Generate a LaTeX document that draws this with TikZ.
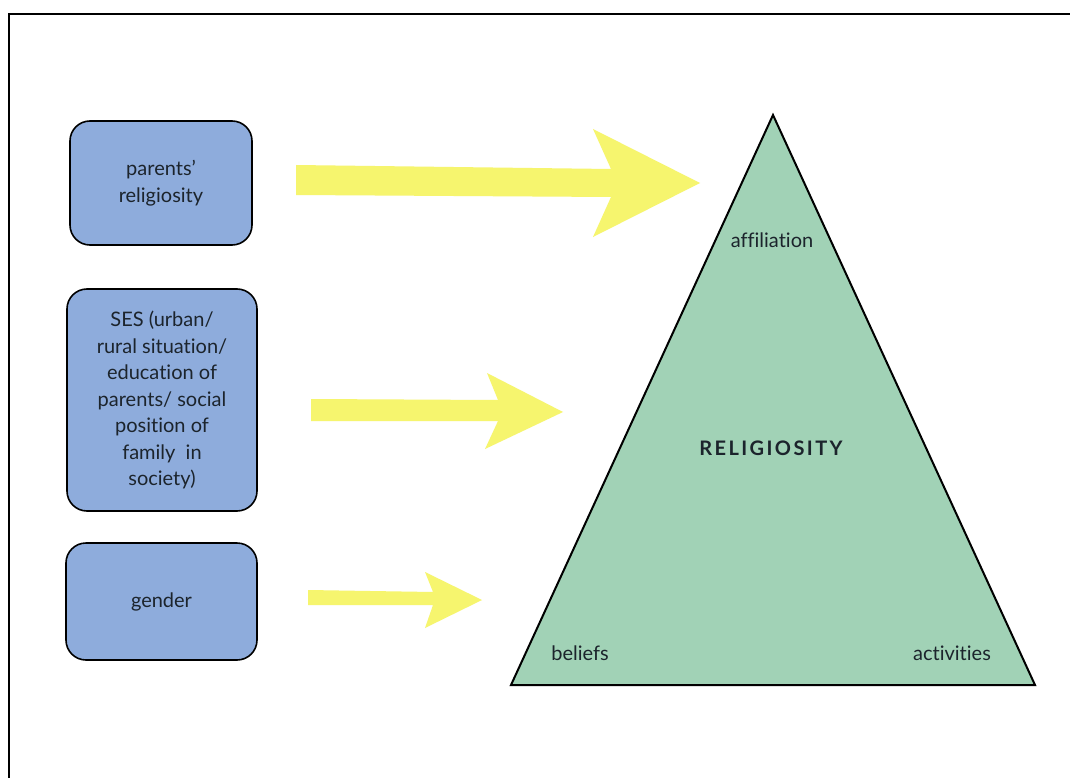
\documentclass[tikz,border=0pt]{standalone}
\usepackage{fontspec}
\setmainfont{Lato}[Ligatures=NoCommon]
\newfontfamily\boldwide{Lato}[Ligatures=NoCommon,LetterSpace=12,BoldFont={Lato Bold}]
\definecolor{boxblue}{RGB}{142,172,220}
\definecolor{arrowyellow}{RGB}{246,245,110}
\definecolor{trigreen}{RGB}{161,210,182}
\definecolor{ink}{RGB}{28,36,44}
\begin{document}
\begin{tikzpicture}[x=1pt,y=-1pt,
  factor/.style={draw=black,line width=1.6pt,fill=boxblue,rounded corners=20pt,
    align=center,text=ink,font=\fontsize{20}{26.5}\selectfont,inner sep=0pt},
  bigarrow/.style={fill=arrowyellow,draw=none},
  trilabel/.style={text=ink,font=\fontsize{20}{24}\selectfont,inner sep=0pt}]
\useasboundingbox (0,0) rectangle (1070,778);
\fill[white] (0,0) rectangle (1070,778);
% frame
\draw[line width=2.6pt] (9,790) -- (9,14) -- (1080,14);
% factor boxes
\node[factor,minimum width=182pt,minimum height=124pt] (parents) at (161,183)
  {parents’\\religiosity};
\node[factor,minimum width=190pt,minimum height=222pt] (ses) at (162,400)
  {SES (urban/\\rural situation/\\education of\\parents/ social\\position of\\family\ \ in\\society)};
\node[factor,minimum width=191pt,minimum height=117pt] (gender) at (161.5,601.5)
  {gender};
% triangle
\coordinate (apex) at (773,115);
\coordinate (bl) at (511,685);
\coordinate (br) at (1035,685);
\draw[line width=2pt,fill=trigreen,line join=miter] (apex) -- (br) -- (bl) -- cycle;
\node[trilabel] (affil) at (772,240) {affiliation};
\node[trilabel,font=\fontsize{20}{24}\boldwide\bfseries] (relig) at (771,448) {RELIGIOSITY};
\node[trilabel] (beliefs) at (580,653) {beliefs};
\node[trilabel] (activ) at (952,653) {activities};
% arrows
\fill[bigarrow] (296,165) -- (611,169) -- (593,129) -- (700,183) -- (593,237) -- (611,197) -- (296,195) -- cycle;
\fill[bigarrow] (311,399) -- (498,400) -- (487,373) -- (563,412) -- (485,449) -- (498,421) -- (311,421) -- cycle;
\fill[bigarrow] (308,590) -- (433,592) -- (425,572) -- (482,600) -- (425,628) -- (433,605) -- (308,605) -- cycle;
\end{tikzpicture}
\end{document}
